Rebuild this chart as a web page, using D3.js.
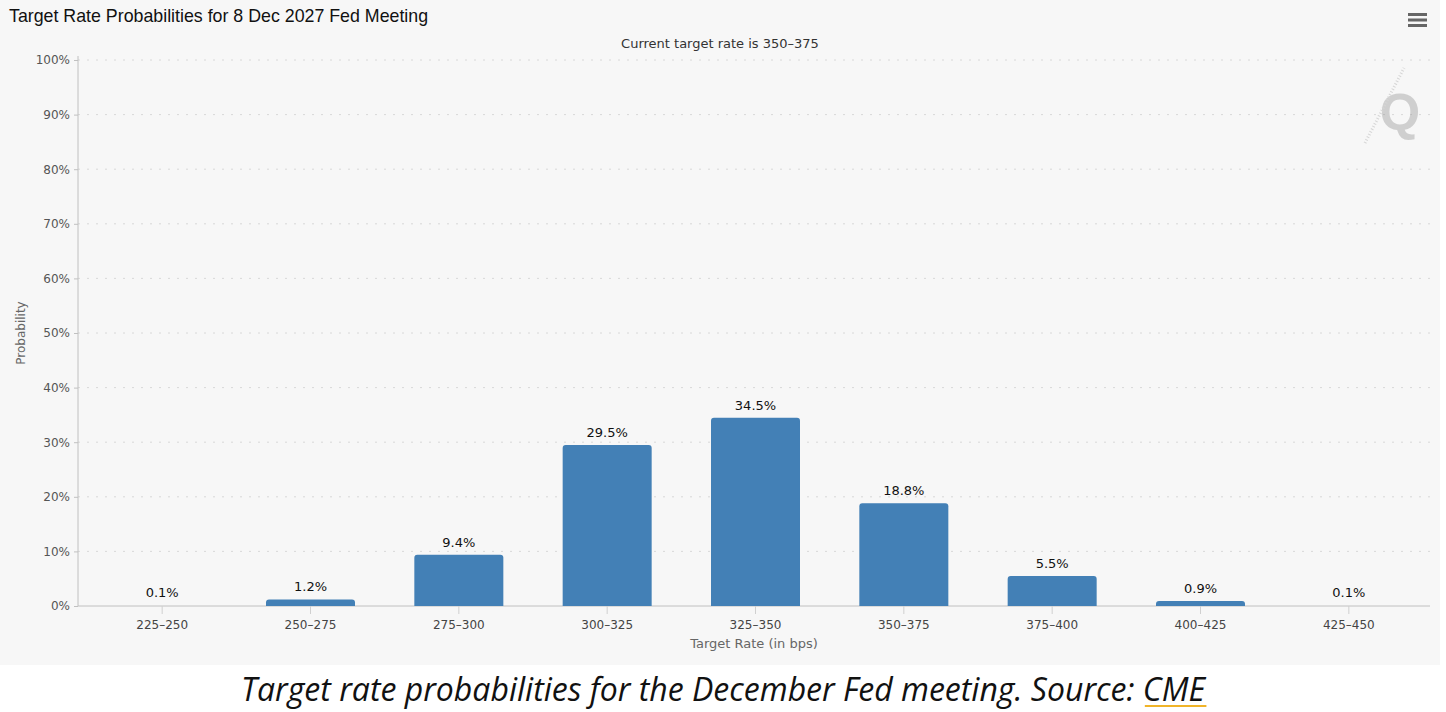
<!DOCTYPE html>
<html>
<head>
<meta charset="utf-8">
<script src="https://cdn.jsdelivr.net/npm/d3@7"></script>
<style>
  body { margin: 0; background: #fff; }
  svg { display: block; }
</style>
</head>
<body>
<script>
// target rate buckets and their probabilities (%)
const rates = ['225\u2013250', '250\u2013275', '275\u2013300', '300\u2013325', '325\u2013350',
               '350\u2013375', '375\u2013400', '400\u2013425', '425\u2013450'];
const probs = [0.1, 1.2, 9.4, 29.5, 34.5, 18.8, 5.5, 0.9, 0.1];
const yTicks = [0, 10, 20, 30, 40, 50, 60, 70, 80, 90, 100];

const W = 1446, H = 712;
const plot = {left: 78, right: 1430, top: 60, bottom: 606};

const svg = d3.select("body").append("svg")
  .attr("width", W).attr("height", H);

// chart background
svg.append("rect")
  .attr("x", 0).attr("y", 0)
  .attr("width", 1440).attr("height", 665)
  .attr("fill", "#f7f7f7");

const x = d3.scaleBand()
  .domain(rates)
  .range([88, 1423])
  .paddingInner(0.4)
  .paddingOuter(0.2);

const y = d3.scaleLinear()
  .domain([0, 100])
  .range([plot.bottom, plot.top]);

// grid lines
svg.append("g")
  .selectAll("line")
  .data(yTicks.slice(1))
  .join("line")
    .attr("x1", plot.left).attr("x2", plot.right)
    .attr("y1", d => y(d)).attr("y2", d => y(d))
    .attr("stroke", "#d8d8d8")
    .attr("stroke-dasharray", "2,7");

// y axis
const yAxis = svg.append("g")
  .attr("transform", `translate(${plot.left},0)`)
  .call(d3.axisLeft(y).tickValues(yTicks).tickFormat(d => d + "%").tickSize(4).tickPadding(4));
yAxis.select(".domain").attr("stroke", "#c0c0c0").attr("d", `M0,${plot.top - 4}V${plot.bottom}`);
yAxis.selectAll(".tick line").attr("stroke", "#c0c0c0");
yAxis.selectAll("text")
  .attr("font-family", "DejaVu Sans, sans-serif")
  .attr("font-size", 12)
  .attr("fill", "#555");

// x axis
const xAxis = svg.append("g")
  .attr("transform", `translate(0,${plot.bottom})`)
  .call(d3.axisBottom(x).tickSize(8).tickPadding(6));
xAxis.select(".domain").attr("stroke", "#c0c0c0").attr("d", `M${plot.left},0H${plot.right}`);
xAxis.selectAll(".tick line").attr("stroke", "#d0d0d0");
xAxis.selectAll("text")
  .attr("font-family", "DejaVu Sans, sans-serif")
  .attr("font-size", 12)
  .attr("fill", "#444");

// bars with rounded tops
const r = 3;
function barPath(d, i) {
  const x0 = x(rates[i]), w = x.bandwidth();
  const yt = y(d), yb = y(0);
  const rr = Math.min(r, (yb - yt));
  if (yb - yt < 0.6) return "";
  return `M${x0},${yb}V${yt + rr}Q${x0},${yt} ${x0 + rr},${yt}H${x0 + w - rr}Q${x0 + w},${yt} ${x0 + w},${yt + rr}V${yb}Z`;
}
svg.append("g")
  .selectAll("path")
  .data(probs)
  .join("path")
    .attr("d", barPath)
    .attr("fill", "#4380b6");

// value labels
svg.append("g")
  .selectAll("text")
  .data(probs)
  .join("text")
    .attr("x", (d, i) => x(rates[i]) + x.bandwidth() / 2)
    .attr("y", d => y(d) - 8)
    .attr("text-anchor", "middle")
    .attr("font-family", "DejaVu Sans, sans-serif")
    .attr("font-size", 13)
    .attr("fill", "#111")
    .text(d => d.toFixed(1) + "%");

// titles
svg.append("text")
  .attr("x", 9).attr("y", 22)
  .attr("font-family", "Liberation Sans, Arial, sans-serif")
  .attr("font-size", 17.8)
  .attr("fill", "#111")
  .text("Target Rate Probabilities for 8 Dec 2027 Fed Meeting");

svg.append("text")
  .attr("x", 720).attr("y", 48)
  .attr("text-anchor", "middle")
  .attr("font-family", "DejaVu Sans, sans-serif")
  .attr("font-size", 13)
  .attr("fill", "#333")
  .text("Current target rate is 350\u2013375");

svg.append("text")
  .attr("transform", `translate(25,${(plot.top + plot.bottom) / 2}) rotate(-90)`)
  .attr("text-anchor", "middle")
  .attr("font-family", "DejaVu Sans, sans-serif")
  .attr("font-size", 12)
  .attr("fill", "#666")
  .text("Probability");

svg.append("text")
  .attr("x", 754).attr("y", 648)
  .attr("text-anchor", "middle")
  .attr("font-family", "DejaVu Sans, sans-serif")
  .attr("font-size", 13)
  .attr("fill", "#666")
  .text("Target Rate (in bps)");

// menu icon
svg.append("g")
  .selectAll("rect")
  .data([0, 1, 2])
  .join("rect")
    .attr("x", 1408).attr("y", d => 13 + d * 5.5)
    .attr("width", 19).attr("height", 3)
    .attr("fill", "#666");

// watermark
const wm = svg.append("g").attr("opacity", 0.35);
wm.append("text")
  .attr("x", 1400).attr("y", 130)
  .attr("text-anchor", "middle")
  .attr("font-family", "Liberation Sans, Arial, sans-serif")
  .attr("font-weight", "bold")
  .attr("font-size", 52)
  .attr("fill", "#888")
  .text("Q");
wm.append("line")
  .attr("x1", 1365).attr("y1", 143).attr("x2", 1404).attr("y2", 68)
  .attr("stroke", "#999")
  .attr("stroke-width", 3)
  .attr("stroke-dasharray", "1,2");

// caption
const cap = svg.append("text")
  .attr("x", 723).attr("y", 701)
  .attr("text-anchor", "middle")
  .attr("font-family", "Open Sans, sans-serif")
  .attr("font-style", "italic")
  .attr("font-size", 32)
  .attr("fill", "#111");
cap.append("tspan").text("Target rate probabilities for the December Fed meeting. Source: ");
cap.append("tspan").attr("id", "cme").text("CME");

const cme = document.getElementById("cme").getBBox();
svg.append("line")
  .attr("x1", cme.x + 2).attr("x2", cme.x + cme.width)
  .attr("y1", 706).attr("y2", 706)
  .attr("stroke", "#f0b429")
  .attr("stroke-width", 2);
</script>
</body>
</html>
